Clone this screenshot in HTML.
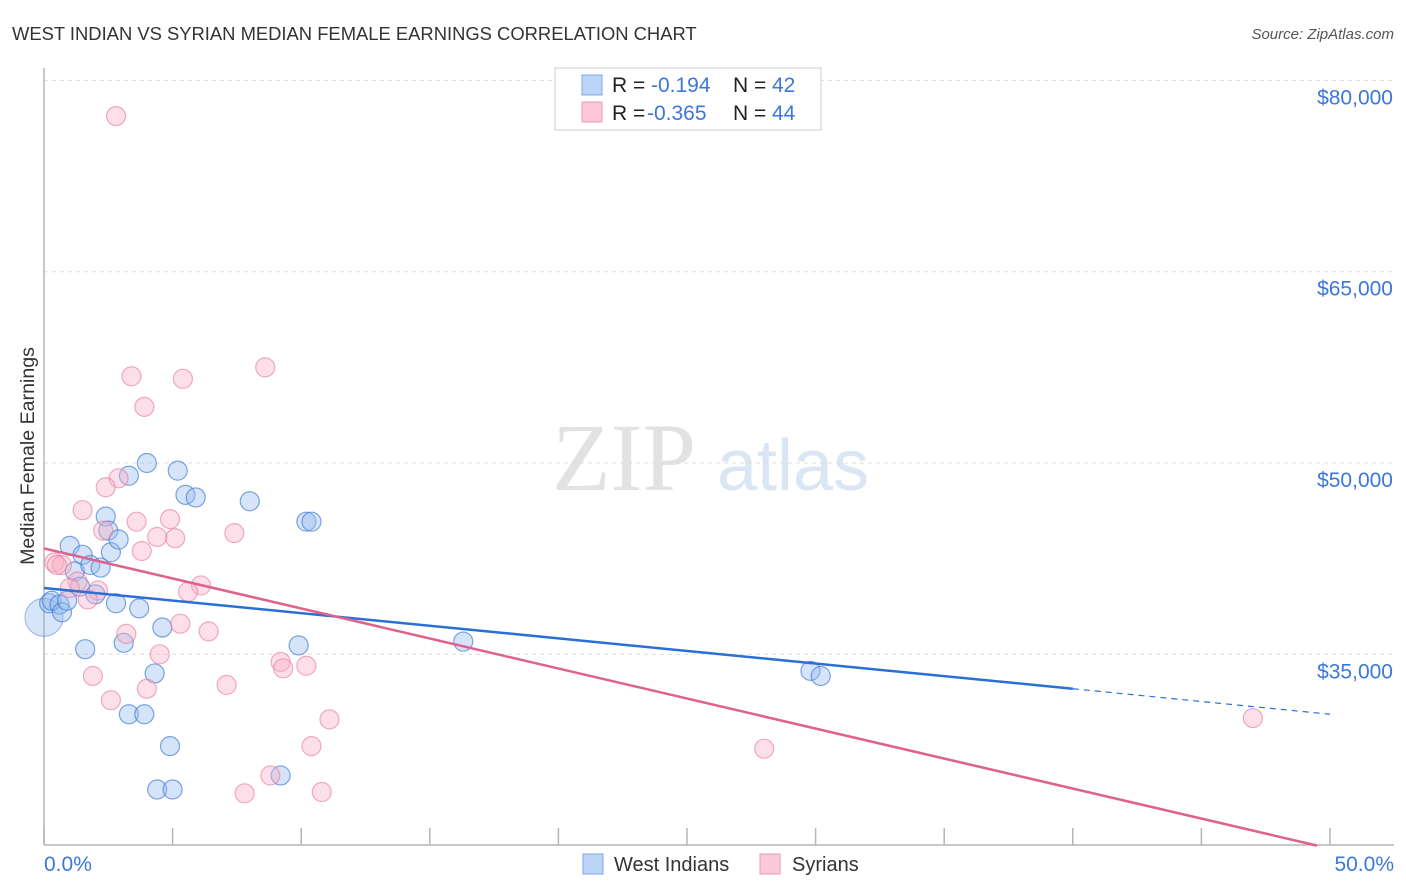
<!DOCTYPE html>
<html><head><meta charset="utf-8"><style>
body{margin:0;background:#fff;font-family:"Liberation Sans",sans-serif}
svg{display:block}
</style></head><body>
<svg id="chart" width="1406" height="892" viewBox="0 0 1406 892" xmlns="http://www.w3.org/2000/svg">
<text x="12" y="40" font-size="18.4" fill="#333">WEST INDIAN VS SYRIAN MEDIAN FEMALE EARNINGS CORRELATION CHART</text>
<text x="1394" y="39" font-size="15" fill="#555" font-style="italic" text-anchor="end">Source: ZipAtlas.com</text>
<g>
<text x="552" y="490" font-family="Liberation Serif,serif" font-size="96" fill="#e2e2e2">ZIP</text>
<text x="717" y="490" font-size="72" fill="#dbe6f5">atlas</text>
</g>
<g id="grid"></g>
<g id="axes"></g>
<text transform="translate(34,456) rotate(-90)" font-size="19.6" fill="#333" text-anchor="middle">Median Female Earnings</text>
<g id="pts"></g>
<g id="trend"></g>
<g>
<rect x="555" y="68" width="266" height="62" fill="#fff" stroke="#ccc"/>
<rect x="582" y="75" width="20" height="20" fill="#bcd4f6" stroke="#7ea8e6"/>
<rect x="582" y="102" width="20" height="20" fill="#fcc9d8" stroke="#ee9ab4"/>
<text x="612" y="92" font-size="21" fill="#222">R = </text><text x="651" y="92" font-size="21" fill="#3b78d8">-0.194</text>
<text x="733" y="92" font-size="21" fill="#222">N = </text><text x="772" y="92" font-size="21" fill="#3b78d8">42</text>
<text x="612" y="120" font-size="21" fill="#222">R = </text><text x="647" y="120" font-size="21" fill="#3b78d8">-0.365</text>
<text x="733" y="120" font-size="21" fill="#222">N = </text><text x="772" y="120" font-size="21" fill="#3b78d8">44</text>
</g>
<g>
<rect x="583" y="854" width="20" height="20" fill="#bcd4f6" stroke="#7ea8e6"/>
<text x="614" y="871" font-size="20" fill="#333">West Indians</text>
<rect x="760" y="854" width="20" height="20" fill="#fcc9d8" stroke="#ee9ab4"/>
<text x="792" y="871" font-size="20" fill="#333">Syrians</text>
</g>
</svg>
<script>
const yTicks=[35000,50000,65000,80000];
const yTickLabels=["$35,000","$50,000","$65,000","$80,000"];
const xTicks=[0,5,10,15,20,25,30,35,40,45,50];
const wiX=[0.2,0.3,0.6,0.7,0.9,1.0,1.2,1.4,1.5,1.6,1.8,2.0,2.2,2.4,2.5,2.6,2.8,2.9,3.1,3.3,3.3,3.7,3.9,4.0,4.3,4.4,4.6,4.9,5.0,5.2,5.5,5.9,8.0,9.2,9.9,10.2,10.4,16.3,29.8,30.2];
const wiY=[39000,39200,38900,38300,39200,43500,41500,40300,42800,35400,42000,39700,41800,45800,44700,43000,39000,44000,35900,30300,49000,38600,30300,50000,33500,24400,37100,27800,24400,49400,47500,47300,47000,25500,35700,45400,45400,36000,33700,33300];
const syX=[2.8,8.6,3.4,5.4,3.9,2.9,2.4,1.5,3.6,4.9,2.3,7.4,5.1,4.4,3.8,0.4,0.7,1.3,6.1,5.6,2.1,1.7,1.0,5.3,3.2,6.4,4.5,9.2,9.3,10.2,1.9,7.1,4.0,2.6,11.1,10.4,8.8,7.8,10.8,28.0,47.0,0.5];
const syY=[77200,57500,56800,56600,54400,48800,48100,46300,45400,45600,44700,44500,44100,44200,43100,42200,42000,40700,40400,39900,40000,39300,40200,37400,36600,36800,35000,34400,33900,34100,33300,32600,32300,31400,29900,27800,25500,24100,24200,27600,30000,42000];
const wiTrend=[0,40200,40,32300,50,30300];
const syTrend=[0,43300,49.5,20000];
const NS='http://www.w3.org/2000/svg';
const X=v=>44+v*(1330-44)/50;
const Y=v=>463-(v-50000)*191.3/15000;
function mk(t,a,p){const e=document.createElementNS(NS,t);for(const k in a)e.setAttribute(k,a[k]);p.appendChild(e);return e;}
const grid=document.getElementById('grid'),axes=document.getElementById('axes'),pts=document.getElementById('pts'),tr=document.getElementById('trend');
yTicks.forEach((v,i)=>{
 const l=mk('line',{x1:44,x2:1394,y1:Y(v),y2:Y(v),stroke:'#ddd','stroke-dasharray':'4,4'},grid);
 
 
 const t=mk('text',{x:1393,y:Y(v)+24,'font-size':21,fill:'#3b78d8','text-anchor':'end'},axes);
 t.textContent=yTickLabels[i];
 
 
});
mk('line',{x1:44,x2:44,y1:68,y2:845,stroke:'#b5b5b5','stroke-width':1.5},axes);
mk('line',{x1:44,x2:1394,y1:845,y2:845,stroke:'#b5b5b5','stroke-width':1.5},axes);
xTicks.forEach(v=>{const l=mk('line',{x1:X(v),x2:X(v),y1:828,y2:845,stroke:'#b5b5b5','stroke-width':1.5},axes);
 
 });
const x0=mk('text',{x:44,y:871,'font-size':21,fill:'#3b78d8'},axes);x0.textContent='0.0%';


const x1=mk('text',{x:1394,y:871,'font-size':21,fill:'#3b78d8','text-anchor':'end'},axes);x1.textContent='50.0%';


const b1=mk('circle',{cx:X(0),cy:Y(37900),r:19,fill:'rgba(140,180,235,0.35)',stroke:'rgba(60,120,210,0.5)'},pts);


wiX.forEach((v,i)=>{const c=mk('circle',{cx:X(v),cy:Y(wiY[i]),r:9.5,fill:'rgba(150,188,238,0.4)',stroke:'rgba(60,120,210,0.65)','stroke-width':1.2},pts);
 
 });
syX.forEach((v,i)=>{const c=mk('circle',{cx:X(v),cy:Y(syY[i]),r:9.5,fill:'rgba(248,175,198,0.4)',stroke:'rgba(230,120,155,0.6)','stroke-width':1.2},pts);
 
 });
const l1=mk('line',{x1:X(wiTrend[0]),y1:Y(wiTrend[1]),x2:X(wiTrend[2]),y2:Y(wiTrend[3]),stroke:'#2a6fd6','stroke-width':2.5},tr);


const l2=mk('line',{x1:X(wiTrend[2]),y1:Y(wiTrend[3]),x2:X(wiTrend[4]),y2:Y(wiTrend[5]),stroke:'#2a6fd6','stroke-width':1.2,'stroke-dasharray':'6,5'},tr);


const l3=mk('line',{x1:X(syTrend[0]),y1:Y(syTrend[1]),x2:X(syTrend[2]),y2:Y(syTrend[3]),stroke:'#e0608e','stroke-width':2.5},tr);


</script>
</body></html>
